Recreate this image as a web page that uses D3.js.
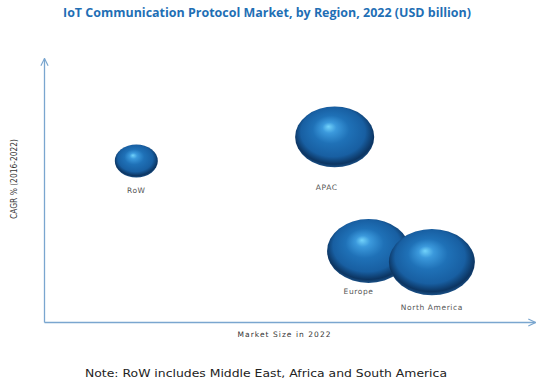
<!DOCTYPE html>
<html>
<head>
<meta charset="utf-8">
<script src="https://cdn.jsdelivr.net/npm/d3@7"></script>
<style>
  html, body { margin: 0; padding: 0; background: #fff; }
  svg { display: block; }
</style>
</head>
<body>
<svg id="chart" width="549" height="390"></svg>
<script>
// ---- data (axes carry no tick values) ----
const regions    = ["RoW", "APAC", "Europe", "North America"];
const marketSize = [18.8, 59.2, 66.1, 79.0];   // x position, relative units
const cagr       = [61.0, 70.1, 26.9, 22.7];   // y position, relative units
const bubbleSize = [5.0, 16.9, 18.6, 20.0];    // bubble area, relative units

const titleText = "IoT Communication Protocol Market, by Region, 2022 (USD billion)";
const xLabel = "Market Size in 2022";
const yLabel = "CAGR % (2016-2022)";
const noteText = "Note: RoW includes Middle East, Africa and South America";

const svg = d3.select("#chart");
const defs = svg.append("defs");

// gradient for glossy spheres
const grad = defs.append("radialGradient")
  .attr("id", "sphere")
  .attr("cx", "0.5").attr("cy", "0.45").attr("r", "0.55")
  .attr("fx", "0.42").attr("fy", "0.33");
[[0, "#72d3fb"], [0.16, "#3b99dc"], [0.42, "#1f71b7"], [0.74, "#185fa2"], [0.92, "#0c3562"], [1, "#1b5187"]]
  .forEach(([o, c]) => grad.append("stop").attr("offset", o).attr("stop-color", c));

// arrow markers
defs.append("marker").attr("id", "arrow")
  .attr("viewBox", "0 0 10 10").attr("refX", 9).attr("refY", 5)
  .attr("markerWidth", 9).attr("markerHeight", 9)
  .attr("markerUnits", "userSpaceOnUse")
  .attr("orient", "auto")
  .append("path").attr("d", "M1,1 L9,5 L1,9")
  .attr("fill", "none").attr("stroke", "#7aa6cf").attr("stroke-width", 1.3);

// scales
const x = d3.scaleLinear().domain([0, 100]).range([44, 535]);
const y = d3.scaleLinear().domain([0, 100]).range([322, 58]);
const r = d3.scaleSqrt().domain([0, 20]).range([0, 43]);
const aspect = 0.77;

// axes (no ticks, only the domain line)
const xAxis = svg.append("g").attr("transform", `translate(0,${y(0)})`)
  .call(d3.axisBottom(x).tickValues([]).tickSizeOuter(0));
const yAxis = svg.append("g").attr("transform", `translate(${x(0)},0)`)
  .call(d3.axisLeft(y).tickValues([]).tickSizeOuter(0));
[xAxis, yAxis].forEach(a => a.select(".domain")
  .attr("stroke", "#7aa6cf").attr("stroke-width", 1.3)
  .attr("marker-end", "url(#arrow)"));

// bubbles
const data = regions.map((d, i) => ({ name: d, x: marketSize[i], y: cagr[i], s: bubbleSize[i] }));

svg.append("g").selectAll("ellipse").data(data).join("ellipse")
  .attr("cx", d => x(d.x))
  .attr("cy", d => y(d.y))
  .attr("rx", d => r(d.s))
  .attr("ry", d => r(d.s) * aspect)
  .attr("fill", "url(#sphere)");

// bubble labels
svg.append("g").selectAll("text").data(data).join("text")
  .attr("x", d => x(d.x) + (d.name === "APAC" ? -8 : d.name === "Europe" ? -10 : 0))
  .attr("y", d => y(d.y) + r(d.s) * aspect + (d.name === "APAC" ? 23 : d.name === "Europe" ? 11 : 15))
  .attr("text-anchor", "middle")
  .attr("font-family", "DejaVu Sans, sans-serif")
  .attr("font-size", 7.5)
  .attr("letter-spacing", 0.6)
  .attr("fill", "#555")
  .text(d => d.name);

// title
svg.append("text")
  .attr("x", 267).attr("y", 17)
  .attr("text-anchor", "middle")
  .attr("font-family", "Open Sans, sans-serif")
  .attr("font-weight", "bold")
  .attr("font-size", 12.5)
  .attr("fill", "#1f6fb5")
  .attr("textLength", 408).attr("lengthAdjust", "spacingAndGlyphs")
  .text(titleText);

// axis labels
svg.append("text")
  .attr("x", 284).attr("y", 337)
  .attr("text-anchor", "middle")
  .attr("font-family", "DejaVu Sans, sans-serif")
  .attr("font-size", 7.5)
  .attr("fill", "#333")
  .attr("textLength", 93).attr("lengthAdjust", "spacing")
  .text(xLabel);

svg.append("text")
  .attr("transform", "translate(17,179) rotate(-90)")
  .attr("text-anchor", "middle")
  .attr("font-family", "DejaVu Sans Condensed, DejaVu Sans, sans-serif")
  .attr("font-size", 9)
  .attr("fill", "#333")
  .attr("textLength", 80).attr("lengthAdjust", "spacingAndGlyphs")
  .text(yLabel);

// note
svg.append("text")
  .attr("x", 266).attr("y", 377)
  .attr("text-anchor", "middle")
  .attr("font-family", "DejaVu Sans, sans-serif")
  .attr("font-size", 11)
  .attr("fill", "#222")
  .attr("textLength", 362).attr("lengthAdjust", "spacingAndGlyphs")
  .text(noteText);
</script>
</body>
</html>
